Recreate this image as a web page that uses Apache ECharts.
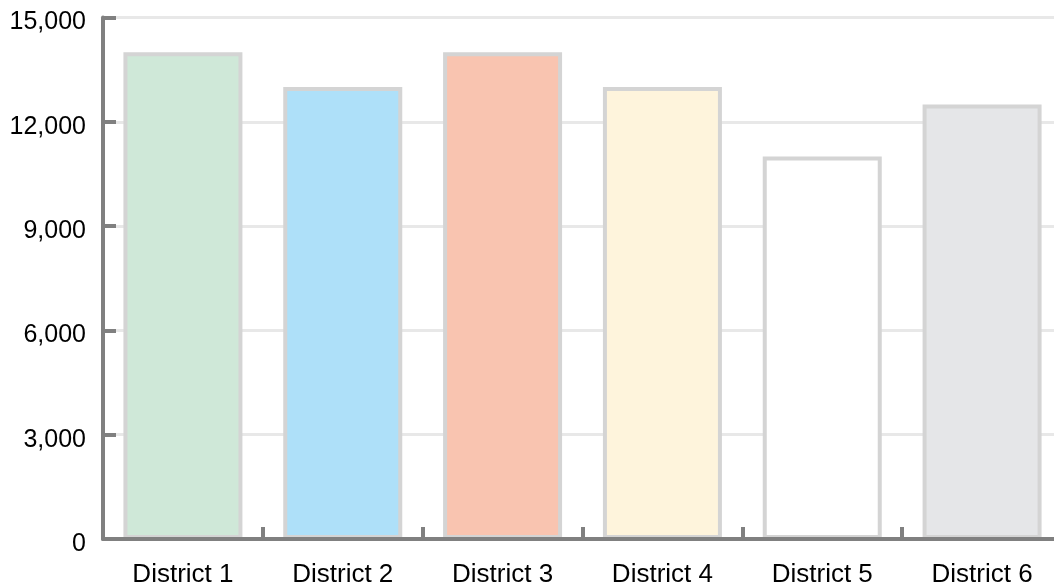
<!DOCTYPE html>
<html>
<head>
<meta charset="utf-8">
<script src="https://cdn.jsdelivr.net/npm/echarts@6/dist/echarts.min.js"></script>
<style>
html,body{margin:0;padding:0;background:#fff;}
#chart{width:1054px;height:587px;}
</style>
</head>
<body>
<div id="chart"></div>
<script>
const categories = ['District 1', 'District 2', 'District 3', 'District 4', 'District 5', 'District 6'];
const values = [14000, 13000, 14000, 13000, 11000, 12500];
const barColors = ['#cfe8d8', '#aee0f9', '#f9c4b0', '#fef4dc', '#ffffff', '#e5e6e8'];
const yTicks = [0, 3000, 6000, 9000, 12000, 15000];

const chart = echarts.init(document.getElementById('chart'), null, {renderer: 'canvas'});
chart.setOption({
  animation: false,
  backgroundColor: '#ffffff',
  grid: {left: 103, width: 959, top: 17.5, height: 521.5, containLabel: false, outerBoundsMode: 'none'},
  xAxis: {
    type: 'category',
    data: categories,
    z: 5,
    axisLine: {show: true, lineStyle: {color: '#808080', width: 4}},
    axisTick: {show: true, inside: true, length: 12, lineStyle: {color: '#808080', width: 4}},
    axisLabel: {color: '#000', fontSize: 26, fontFamily: 'Liberation Sans, Arial, sans-serif', margin: 23},
    splitLine: {show: false}
  },
  yAxis: {
    type: 'value',
    min: yTicks[0],
    max: yTicks[yTicks.length - 1],
    interval: 3000,
    axisLine: {show: true, lineStyle: {color: '#808080', width: 4}},
    axisTick: {show: true, inside: true, length: 13, lineStyle: {color: '#808080', width: 4}},
    axisLabel: {
      color: '#000', fontSize: 25, fontFamily: 'Liberation Sans, Arial, sans-serif', margin: 17,
      formatter: v => '{a|' + v.toLocaleString('en-US') + '}',
      rich: {
        a: {color: '#000', fontSize: 25, fontFamily: 'Liberation Sans, Arial, sans-serif', padding: [10, 0, 0, 0]}
      }
    },
    splitLine: {show: true, lineStyle: {color: '#e8e8e8', width: 3}}
  },
  series: [{
    type: 'bar',
    barWidth: 119,
    data: values.map((v, i) => ({value: v, itemStyle: {color: barColors[i]}})),
    itemStyle: {borderColor: '#d4d4d4', borderWidth: 4}
  }]
});
</script>
</body>
</html>
